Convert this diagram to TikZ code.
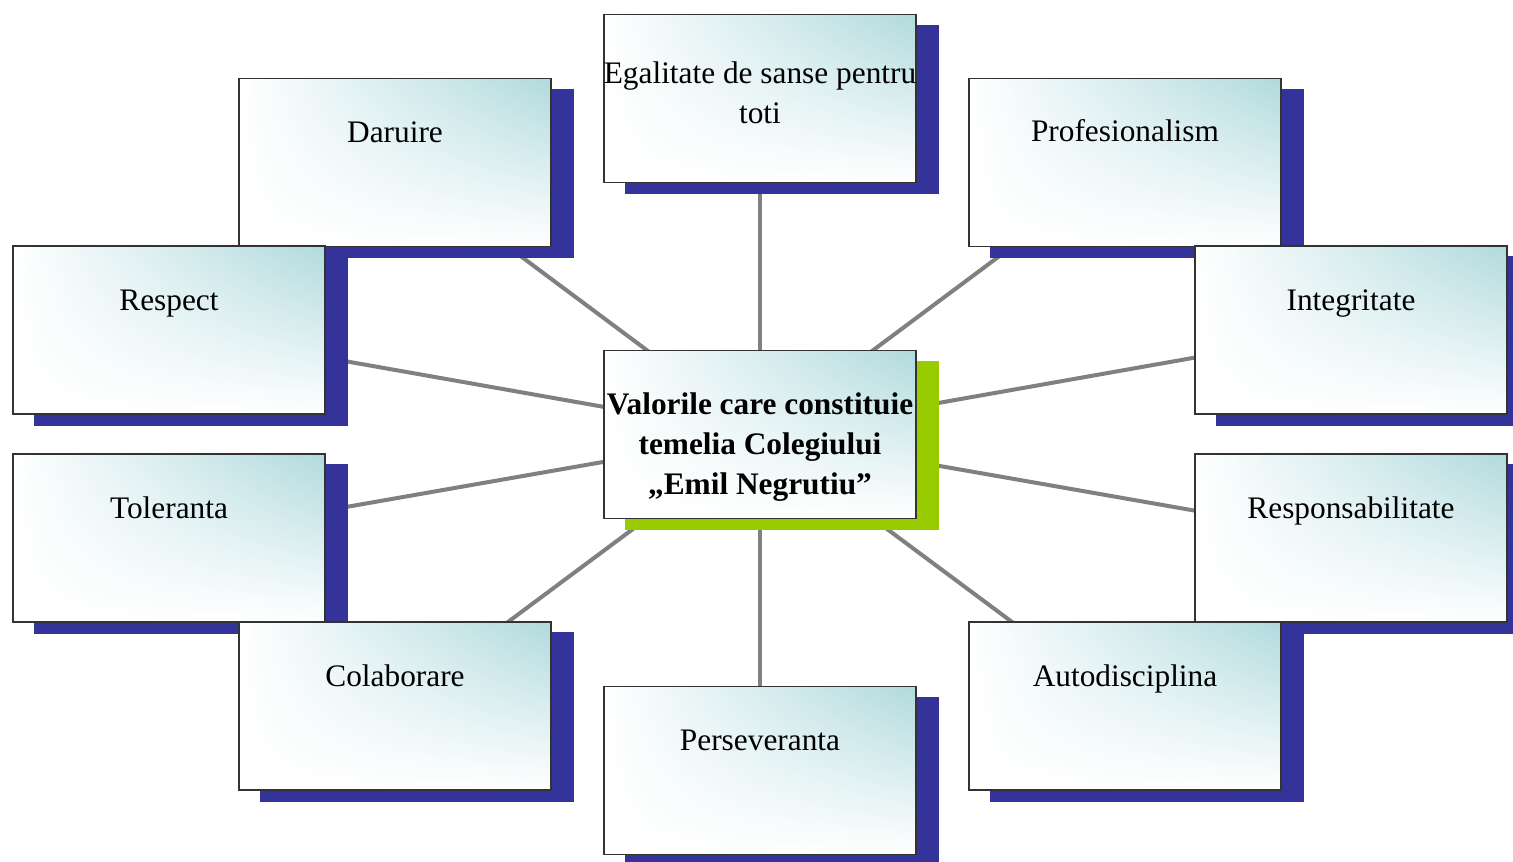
\documentclass[tikz,border=0pt]{standalone}
\usepackage{fontspec}
\setmainfont{Liberation Serif}
\usetikzlibrary{backgrounds,shadings}

\definecolor{shadowblue}{RGB}{51,51,153}
\definecolor{shadowgreen}{RGB}{153,204,0}
\definecolor{boxteal}{RGB}{176,218,221}
\definecolor{linkgray}{RGB}{128,128,128}

\tikzset{
  valbox/.style={draw=black!80, line width=1pt, minimum width=234pt, minimum height=126pt,
    inner sep=0pt, upper right=boxteal, upper left=white, lower left=white, lower right=white},
  valtext/.style={anchor=north, inner sep=0pt, align=center,
    font=\fontsize{23.5}{30}\selectfont, execute at begin node=\strut},
  link/.style={draw=linkgray, line width=3pt},
}

\begin{document}
\begin{tikzpicture}[x=0.75pt,y=0.75pt,yscale=-1,xscale=1]
	\useasboundingbox (0,0) rectangle (1513,862);

	% Boxes
	\node[valbox] (egal) at (760,98.5) {};
	\node[valbox] (daruire) at (395,162.5) {};
	\node[valbox] (prof) at (1125,162.5) {};
	\node[valbox] (respect) at (169,330) {};
	\node[valbox] (integ) at (1351,330) {};
	\node[valbox] (centre) at (760,434.5) {};
	\node[valbox] (toler) at (169,538) {};
	\node[valbox] (respons) at (1351,538) {};
	\node[valbox] (colab) at (395,706) {};
	\node[valbox] (auto) at (1125,706) {};
	\node[valbox] (persev) at (760,770.5) {};

	% Text Node
	\node[valtext] (t-egal) at (760,61) {Egalitate de sanse pentru\\toti};
	% Text Node
	\node[valtext] (t-daruire) at (395,114) {Daruire};
	% Text Node
	\node[valtext] (t-prof) at (1125,113) {Profesionalism};
	% Text Node
	\node[valtext] (t-respect) at (169,282) {Respect};
	% Text Node
	\node[valtext] (t-integ) at (1351,282) {Integritate};
	% Text Node
	\node[valtext, font=\fontsize{23.5}{30}\selectfont\bfseries] (t-centre) at (760,392) {Valorile care constituie\\temelia Colegiului\\„Emil Negrutiu”};
	% Text Node
	\node[valtext] (t-toler) at (169,490) {Toleranta};
	% Text Node
	\node[valtext] (t-respons) at (1351,490) {Responsabilitate};
	% Text Node
	\node[valtext] (t-colab) at (395,658) {Colaborare};
	% Text Node
	\node[valtext] (t-auto) at (1125,658) {Autodisciplina};
	% Text Node
	\node[valtext] (t-persev) at (760,722) {Perseveranta};

	\begin{pgfonlayer}{background}
	% Connection
	\foreach \n in {egal,daruire,prof,respect,integ,toler,respons,colab,auto,persev}
		\draw[link] (centre.center) -- (\n.center);
	% Shadow
	\foreach \n in {egal,daruire,prof,respect,integ,toler,respons,colab,auto,persev}
		\fill[shadowblue] ([shift={(22,11)}]\n.north west) rectangle ([shift={(22,11)}]\n.south east);
	\fill[shadowgreen] ([shift={(22,11)}]centre.north west) rectangle ([shift={(22,11)}]centre.south east);
	\end{pgfonlayer}

\end{tikzpicture}
\end{document}
